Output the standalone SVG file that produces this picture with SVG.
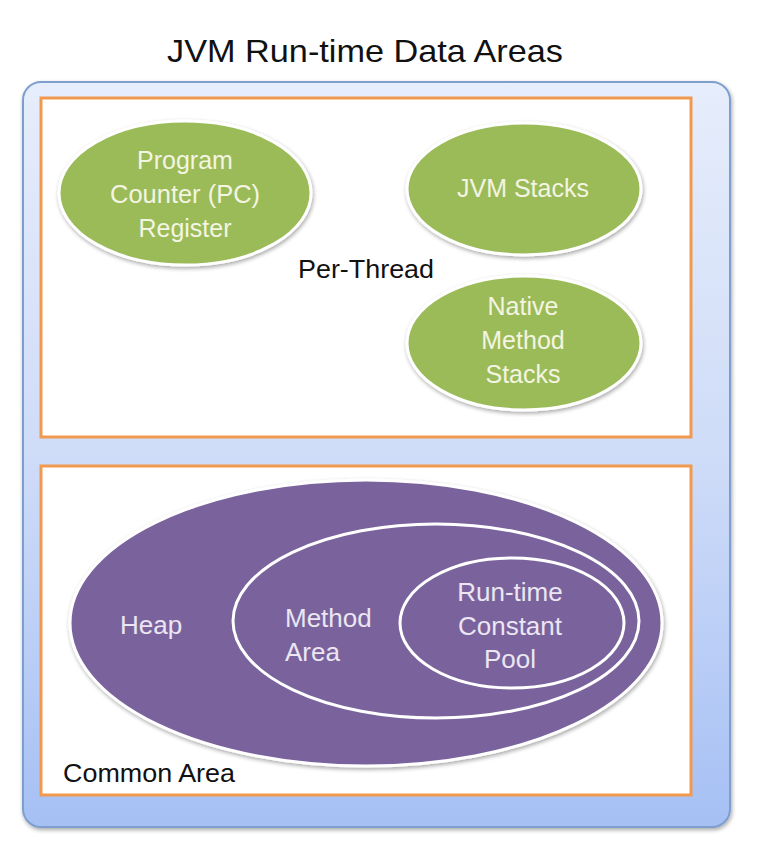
<svg xmlns="http://www.w3.org/2000/svg" width="768" height="868" viewBox="0 0 768 868">
<defs>
<linearGradient id="bg" x1="0" y1="0" x2="0" y2="1">
<stop offset="0" stop-color="#e6edfb"/>
<stop offset="0.5" stop-color="#cfdcf8"/>
<stop offset="1" stop-color="#a6c0f4"/>
</linearGradient>
<filter id="sh" x="-5%" y="-5%" width="110%" height="110%">
<feGaussianBlur in="SourceAlpha" stdDeviation="2"/>
<feOffset dx="1" dy="2" result="b"/>
<feComponentTransfer><feFuncA type="linear" slope="0.35"/></feComponentTransfer>
<feMerge><feMergeNode/><feMergeNode in="SourceGraphic"/></feMerge>
</filter>
<style>
.t{font-family:"Liberation Sans",Arial,sans-serif}
.box{fill:#ffffff;stroke:#f0994f;stroke-width:3}
.green{fill:#9bbb59;stroke:#ffffff;stroke-width:3}
.purple{fill:#7a649d;stroke:#ffffff;stroke-width:3}
.inner{fill:none;stroke:#ffffff;stroke-width:3}
.gt{fill:#f3f5e2;font-size:25px;text-anchor:middle}
.pt{fill:#ebe6f2;font-size:26px}
.bt{fill:#111111;font-size:25px}
</style>
</defs>
<rect width="768" height="868" fill="#ffffff"/>
<text class="t" x="365" y="62" font-size="32" fill="#111111" text-anchor="middle" textLength="396" lengthAdjust="spacingAndGlyphs">JVM Run-time Data Areas</text>
<g id="container">
<rect x="23" y="82" width="707" height="745" rx="18" fill="url(#bg)" stroke="#7f9ed0" stroke-width="2" filter="url(#sh)"/>
</g>
<g id="per-thread">
<rect class="box" x="41" y="98" width="650" height="339"/>
<text class="t bt" x="298" y="278" textLength="136" lengthAdjust="spacingAndGlyphs">Per-Thread</text>
</g>
<g id="pc-register">
<ellipse class="green" cx="185" cy="193" rx="126" ry="72" filter="url(#sh)"/>
<text class="t gt" x="185" y="169">Program</text>
<text class="t gt" x="185" y="203" textLength="150" lengthAdjust="spacingAndGlyphs">Counter (PC)</text>
<text class="t gt" x="185" y="237">Register</text>
</g>
<g id="jvm-stacks">
<ellipse class="green" cx="524" cy="189" rx="117" ry="66" filter="url(#sh)"/>
<text class="t gt" x="523" y="197">JVM Stacks</text>
</g>
<g id="native-method-stacks">
<ellipse class="green" cx="524" cy="343" rx="117" ry="67" filter="url(#sh)"/>
<text class="t gt" x="523" y="315">Native</text>
<text class="t gt" x="523" y="349">Method</text>
<text class="t gt" x="523" y="383">Stacks</text>
</g>
<g id="common-area">
<rect class="box" x="41" y="466" width="650" height="329"/>
<text class="t bt" x="63" y="782" textLength="172" lengthAdjust="spacingAndGlyphs">Common Area</text>
</g>
<g id="heap">
<ellipse class="purple" cx="366" cy="623" rx="296" ry="143" filter="url(#sh)"/>
<text class="t pt" x="120" y="634">Heap</text>
</g>
<g id="method-area">
<ellipse class="inner" cx="436" cy="621" rx="203" ry="97"/>
<text class="t pt" x="285" y="627">Method</text>
<text class="t pt" x="285" y="661">Area</text>
</g>
<g id="runtime-constant-pool">
<ellipse class="inner" cx="512" cy="623" rx="112" ry="65"/>
<text class="t pt" x="510" y="601" text-anchor="middle">Run-time</text>
<text class="t pt" x="510" y="635" text-anchor="middle">Constant</text>
<text class="t pt" x="510" y="668" text-anchor="middle">Pool</text>
</g>
<g id="connectors"/>
</svg>
